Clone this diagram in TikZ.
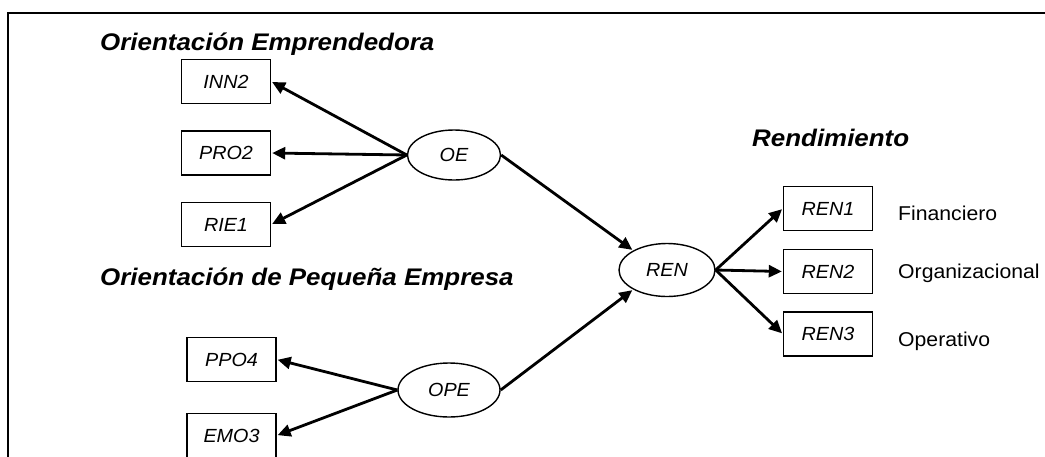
\documentclass[tikz,border=0pt]{standalone}
\usepackage{fontspec}
\setmainfont{Liberation Sans}
\newfontfamily\headfont[FakeStretch=1.08]{Liberation Sans}
\newfontfamily\itemfont[FakeStretch=1.04]{Liberation Sans}
\newfontfamily\notefont[FakeStretch=1.06]{Liberation Sans}
\usetikzlibrary{arrows.meta,shapes.geometric}
\tikzset{
  indicator/.style={draw, line width=1.4pt, minimum width=89pt, minimum height=44pt,
    inner sep=0pt, font=\itemfont\fontsize{19}{21}\selectfont\itshape},
  construct/.style={draw, ellipse, line width=1.4pt, inner sep=0pt,
    font=\itemfont\fontsize{19}{21}\selectfont\itshape},
  heading/.style={anchor=base west, inner sep=0pt,
    font=\headfont\fontsize{24}{28}\selectfont\bfseries\itshape},
  note/.style={anchor=west, inner sep=0pt, font=\notefont\fontsize{20}{23}\selectfont},
  path/.style={line width=2.8pt, -{Triangle[length=13pt,width=12pt]}, shorten >=1pt}
}
\begin{document}
\begin{tikzpicture}[x=1pt,y=-1pt]
\useasboundingbox (0,0) rectangle (1045,456);
% open frame
\draw[line width=1.6pt] (8,458) -- (8,13) -- (1047,13);

% headings
\node[heading] (hoe) at (100,50) {Orientación Emprendedora};
\node[heading] (hope) at (100,285) {Orientación de Pequeña Empresa};
\node[heading] (hren) at (752,146) {Rendimiento};

% indicators
\node[indicator] (inn2) at (226,81.5) {INN2};
\node[indicator] (pro2) at (226,153) {PRO2};
\node[indicator] (rie1) at (226,224.5) {RIE1};
\node[indicator] (ppo4) at (231.5,359.5) {PPO4};
\node[indicator] (emo3) at (231.5,435.5) {EMO3};
\node[indicator] (ren1) at (828,208.5) {REN1};
\node[indicator] (ren2) at (828,271.5) {REN2};
\node[indicator] (ren3) at (828,334) {REN3};

% constructs
\node[construct, minimum width=93pt, minimum height=50pt] (oe) at (454,155) {OE};
\node[construct, minimum width=102pt, minimum height=54pt] (ope) at (449,390) {OPE};
\node[construct, minimum width=96pt, minimum height=53pt] (ren) at (667,270) {REN};

% dimension labels
\node[note] (fin) at (898,213) {Financiero};
\node[note] (org) at (898,273) {Organizacional};
\node[note] (ope2) at (898,341) {Operativo};

% paths
\draw[path] (oe.west) -- (inn2.east);
\draw[path] (oe.west) -- (pro2.east);
\draw[path] (oe.west) -- (rie1.east);
\draw[path] (ope.west) -- (ppo4.east);
\draw[path] (ope.west) -- (emo3.east);
\draw[path] (oe.east) -- (ren.150);
\draw[path] (ope.east) -- (ren.210);
\draw[path] (ren.east) -- (ren1.west);
\draw[path] (ren.east) -- (ren2.west);
\draw[path] (ren.east) -- (ren3.west);
\end{tikzpicture}
\end{document}
